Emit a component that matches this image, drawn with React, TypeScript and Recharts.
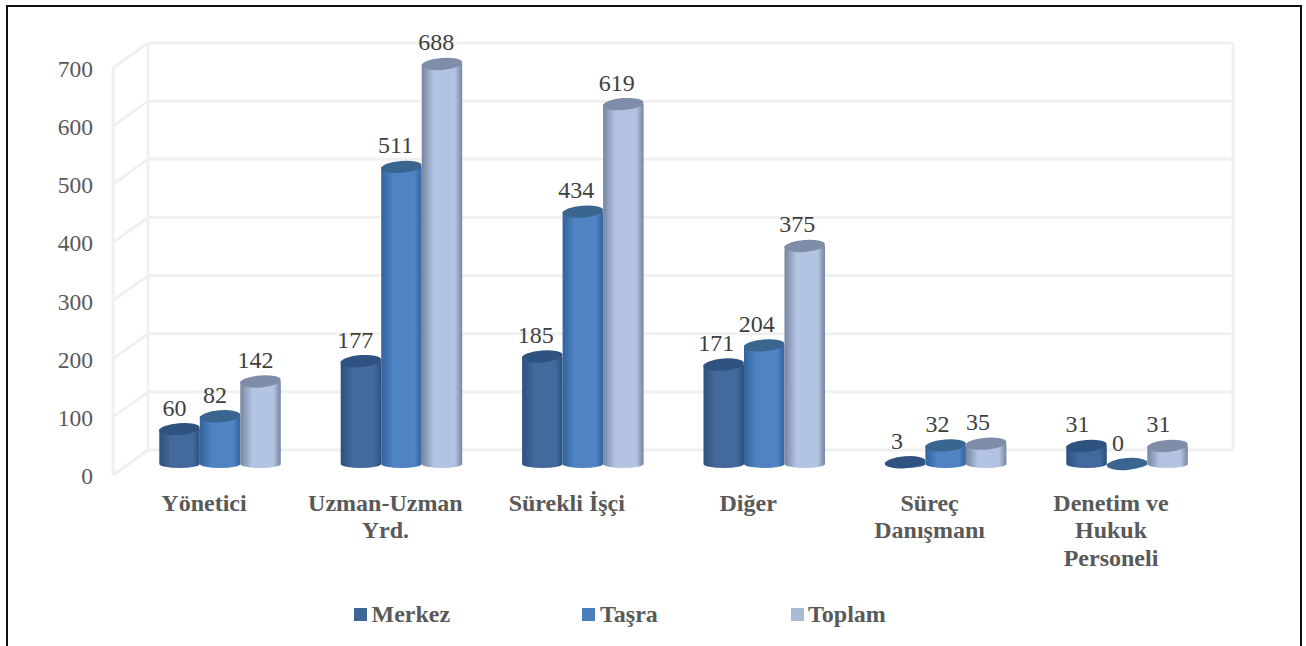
import { BarChart, Bar, XAxis, YAxis, CartesianGrid, Legend, LabelList } from "recharts";

const categories = ["Yönetici", "Uzman-Uzman Yrd.", "Sürekli İşçi", "Diğer", "Süreç Danışmanı", "Denetim ve Hukuk Personeli"];
const categoryLines = [["Yönetici"], ["Uzman-Uzman", "Yrd."], ["Sürekli İşçi"], ["Diğer"], ["Süreç", "Danışmanı"], ["Denetim ve", "Hukuk", "Personeli"]];
const merkez = [60, 177, 185, 171, 3, 31];
const tasra = [82, 511, 434, 204, 32, 0];
const toplam = [142, 688, 619, 375, 35, 31];
const yTicks = [0, 100, 200, 300, 400, 500, 600, 700];

const chartData = categories.map((name, i) => ({ name, merkez: merkez[i], tasra: tasra[i], toplam: toplam[i] }));

const TEXT = "#595959";
const FONT = "'Liberation Serif', serif";
const GRID = "#f0f0f0";

// the wall sits behind the bars, the floor edge in front of them
const BACK_LEFT = 148;
const BACK_RIGHT = 1233;
const FRONT_LEFT = 113;
const BACK_DY = -14;
const FRONT_DY = 11;
const PLOT_TOP = 57;

const looks: Record<string, { edge: string; mid: string; top: string; key: string }> = {
  merkez: { edge: "#2c507f", mid: "#44699c", top: "#2f5380", key: "#3e6797" },
  tasra: { edge: "#33639c", mid: "#4f83c4", top: "#39658f", key: "#4a7ebb" },
  toplam: { edge: "#76859f", mid: "#b3c3e2", top: "#7f8da8", key: "#aabad7" },
};

function Cylinder(props: any) {
  const { x, y, width, height, seriesKey } = props;
  const rx = width / 2;
  const cx = x + rx;
  const bottom = y + height;
  const look = looks[seriesKey];
  return (
    <g>
      <path
        d={`M${x},${y} L${x},${bottom} A${rx},4 0 0 0 ${x + width},${bottom} L${x + width},${y} Z`}
        fill={`url(#grad-${seriesKey})`}
      />
      <ellipse cx={cx} cy={y} rx={rx} ry={6} fill={look.top} transform={`rotate(-4.5 ${cx} ${y})`} />
    </g>
  );
}

// labels drift left of their bars towards the right of the chart
function ValueLabel(props: any) {
  const { x, y, width, value, index } = props;
  return (
    <text
      x={x + width / 2 - 5 - index * 0.8}
      y={y - 13.5}
      textAnchor="middle"
      fontFamily={FONT}
      fontSize={24}
      fill="#404040"
    >
      {value}
    </text>
  );
}

function CategoryTick(props: any) {
  const { x, index } = props;
  return (
    <text x={x - 16} textAnchor="middle" fontFamily={FONT} fontSize={24} fontWeight="bold" fill={TEXT}>
      {categoryLines[index].map((line, i) => (
        <tspan key={line} x={x - 16} y={510.5 + i * 27.8}>
          {line}
        </tspan>
      ))}
    </text>
  );
}

function ValueTick(props: any) {
  const { y, payload } = props;
  return (
    <text x={93} y={y + 20} textAnchor="end" fontFamily={FONT} fontSize={23.5} fill={TEXT}>
      {payload.value}
    </text>
  );
}

function WallLine(props: any) {
  const { y1 } = props;
  const back = y1 + BACK_DY;
  const front = y1 + FRONT_DY;
  const hasSegmentAbove = y1 > PLOT_TOP + 1;
  const step = 407 / 7;
  return (
    <g stroke={GRID} strokeWidth={3} fill="none">
      <line x1={BACK_LEFT} x2={BACK_RIGHT} y1={back} y2={back} />
      <line x1={FRONT_LEFT} x2={BACK_LEFT} y1={front} y2={back} />
      {hasSegmentAbove && (
        <>
          <line x1={BACK_LEFT} x2={BACK_LEFT} y1={back} y2={back - step} />
          <line x1={BACK_RIGHT} x2={BACK_RIGHT} y1={back} y2={back - step} />
          <line x1={FRONT_LEFT} x2={FRONT_LEFT} y1={front} y2={front - step} />
        </>
      )}
    </g>
  );
}

const legendSpots = [
  { box: 354, text: 371.5 },
  { box: 582, text: 600 },
  { box: 791, text: 808 },
];

function ChartLegend({ payload }: any) {
  return (
    <div style={{ position: "relative", width: 1306, height: 0 }}>
      {(payload || []).map((entry: any, i: number) => (
        <div key={entry.value}>
          <div
            style={{
              position: "absolute",
              left: legendSpots[i].box,
              top: 608,
              width: 13,
              height: 13,
              background: looks[entry.dataKey].key,
            }}
          />
          <div
            style={{
              position: "absolute",
              left: legendSpots[i].text,
              top: 601,
              lineHeight: "26px",
              fontFamily: FONT,
              fontSize: 24,
              fontWeight: "bold",
              color: TEXT,
              whiteSpace: "nowrap",
            }}
          >
            {entry.value}
          </div>
        </div>
      ))}
    </div>
  );
}

export default function App() {
  return (
    <div style={{ position: "absolute", left: 0, top: 0, width: 1306, height: 646, background: "#fff", overflow: "hidden" }}>
      <div
        style={{
          position: "absolute",
          left: 6,
          top: 5,
          width: 1292,
          height: 660,
          border: "2px solid #111",
        }}
      />
      <div style={{ position: "absolute", left: 0, top: 0 }}>
        <BarChart
          width={1306}
          height={646}
          data={chartData}
          barGap={0}
          barSize={40.5}
          margin={{ top: PLOT_TOP, right: 88.3, bottom: 62, left: 0 }}
        >
          <defs>
            {Object.keys(looks).map((k) => (
              <linearGradient key={k} id={`grad-${k}`} x1="0" x2="1" y1="0" y2="0">
                <stop offset="0%" stopColor={looks[k].edge} />
                <stop offset="30%" stopColor={looks[k].mid} />
                <stop offset="82%" stopColor={looks[k].mid} />
                <stop offset="100%" stopColor={looks[k].edge} />
              </linearGradient>
            ))}
          </defs>
          <CartesianGrid vertical={false} horizontal={(p: any) => <WallLine key={p.key ?? p.index} {...p} />} />
          <XAxis dataKey="name" axisLine={false} tickLine={false} height={120} interval={0} tick={<CategoryTick />} />
          <YAxis
            width={129.3}
            domain={[0, 700]}
            ticks={yTicks}
            axisLine={false}
            tickLine={false}
            tick={<ValueTick />}
          />
          <Legend content={<ChartLegend />} height={0} wrapperStyle={{ left: 0, top: 0, width: 1306, height: 0 }} />
          <Bar
            dataKey="merkez"
            name="Merkez"
            isAnimationActive={false}
            fill={looks.merkez.key}
            shape={(p: any) => <Cylinder {...p} seriesKey="merkez" />}
          >
            <LabelList dataKey="merkez" content={<ValueLabel />} />
          </Bar>
          <Bar
            dataKey="tasra"
            name="Taşra"
            isAnimationActive={false}
            fill={looks.tasra.key}
            shape={(p: any) => <Cylinder {...p} seriesKey="tasra" />}
          >
            <LabelList dataKey="tasra" content={<ValueLabel />} />
          </Bar>
          <Bar
            dataKey="toplam"
            name="Toplam"
            isAnimationActive={false}
            fill={looks.toplam.key}
            shape={(p: any) => <Cylinder {...p} seriesKey="toplam" />}
          >
            <LabelList dataKey="toplam" content={<ValueLabel />} />
          </Bar>
        </BarChart>
      </div>
    </div>
  );
}
